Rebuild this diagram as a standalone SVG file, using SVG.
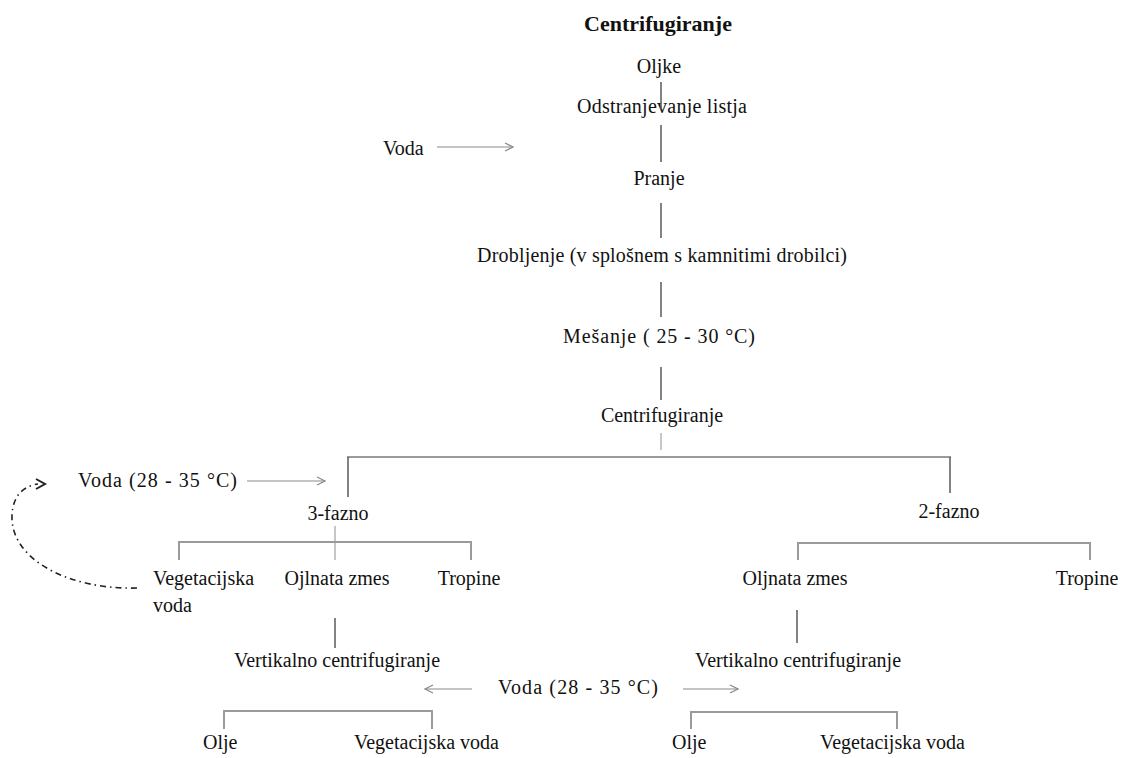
<svg xmlns="http://www.w3.org/2000/svg" width="1122" height="758" viewBox="0 0 1122 758">
  <defs>
    <style>
      text { font-family: "Liberation Serif", "Times New Roman", serif; font-size: 20px; fill: #111; }
      .title { font-size: 22px; font-weight: bold; }
      .mid { text-anchor: middle; }
      .spine { stroke: #5a5a5a; stroke-width: 1.5; fill: none; }
      .bracket { stroke: #9a9a9a; stroke-width: 2; fill: none; }
      .faint { stroke: #b5b5b5; stroke-width: 1.5; fill: none; }
      .arrow { stroke: #8a8a8a; stroke-width: 1.2; fill: none; }
      .loop { stroke: #222; stroke-width: 1.6; fill: none; stroke-dasharray: 6 4 1.5 4; }
    </style>
    <marker id="open-head" viewBox="0 0 10 10" refX="9" refY="5" markerWidth="10" markerHeight="10" markerUnits="userSpaceOnUse" orient="auto-start-reverse">
      <path d="M1,1 L9,5 L1,9" fill="none" stroke="#8a8a8a" stroke-width="1.2"/>
    </marker>
  </defs>

  <rect width="1122" height="758" fill="#ffffff"/>

  <!-- process steps -->
  <g id="title"><text class="title mid" x="658" y="31">Centrifugiranje</text></g>
  <g id="oljke"><text class="mid" x="659" y="73">Oljke</text></g>
  <g id="odstranjevanje"><text class="mid" x="662" y="113" textLength="170">Odstranjevanje listja</text></g>
  <g id="voda-pranje"><text x="383" y="155">Voda</text></g>
  <g id="pranje"><text class="mid" x="659" y="185">Pranje</text></g>
  <g id="drobljenje"><text class="mid" x="662" y="262" textLength="370">Drobljenje (v splošnem s kamnitimi drobilci)</text></g>
  <g id="mesanje"><text class="mid" x="659" y="343" textLength="192">Mešanje ( 25 - 30 °C)</text></g>
  <g id="centrifugiranje"><text class="mid" x="662" y="422">Centrifugiranje</text></g>

  <!-- decanter branches -->
  <g id="voda-3f"><text x="78" y="487" textLength="159">Voda (28 - 35 °C)</text></g>
  <g id="faza3"><text class="mid" x="338" y="520">3-fazno</text></g>
  <g id="faza2"><text class="mid" x="949" y="518">2-fazno</text></g>

  <g id="vegetacijska-3f"><text x="153" y="585">Vegetacijska</text><text x="153" y="612">voda</text></g>
  <g id="oljnata-3f"><text class="mid" x="337" y="585">Ojlnata zmes</text></g>
  <g id="tropine-3f"><text class="mid" x="469" y="585">Tropine</text></g>
  <g id="oljnata-2f"><text class="mid" x="795" y="585">Oljnata zmes</text></g>
  <g id="tropine-2f"><text class="mid" x="1087" y="585">Tropine</text></g>

  <g id="vertikalno-3f"><text class="mid" x="337" y="667">Vertikalno centrifugiranje</text></g>
  <g id="vertikalno-2f"><text class="mid" x="798" y="667">Vertikalno centrifugiranje</text></g>
  <g id="voda-vertikalno"><text class="mid" x="578" y="694" textLength="160">Voda (28 - 35 °C)</text></g>

  <g id="olje-3f"><text x="203" y="749">Olje</text></g>
  <g id="vegvoda-3f"><text x="354" y="749">Vegetacijska voda</text></g>
  <g id="olje-2f"><text x="672" y="749">Olje</text></g>
  <g id="vegvoda-2f"><text x="820" y="749">Vegetacijska voda</text></g>

  <!-- connectors -->
  <g id="connectors">
    <!-- main line -->
    <line class="spine" x1="661" y1="82" x2="661" y2="110"/>
    <line class="spine" x1="661" y1="125" x2="661" y2="162"/>
    <line class="spine" x1="661" y1="203" x2="661" y2="238"/>
    <line class="spine" x1="661" y1="282" x2="661" y2="317"/>
    <line class="spine" x1="661" y1="367" x2="661" y2="400"/>
    <line class="faint" x1="661" y1="433" x2="661" y2="450"/>

    <!-- split into 3-phase / 2-phase -->
    <line class="bracket" x1="347" y1="457" x2="951" y2="457"/>
    <line class="spine" x1="348" y1="457" x2="348" y2="497"/>
    <line class="spine" x1="950" y1="457" x2="950" y2="493"/>

    <!-- 3-phase outputs -->
    <line class="faint" x1="335" y1="526" x2="335" y2="560"/>
    <polyline class="bracket" points="179,560 179,542 471,542 471,560"/>
    <line class="spine" x1="335" y1="618" x2="335" y2="648"/>

    <!-- 2-phase outputs -->
    <polyline class="bracket" points="798,560 798,543 1090,543 1090,560"/>
    <line class="spine" x1="797" y1="610" x2="797" y2="643"/>

    <!-- vertical centrifuge outputs -->
    <polyline class="bracket" points="224,729 224,711 432,711 432,729"/>
    <polyline class="bracket" points="691,729 691,712 897,712 897,729"/>

    <!-- water inputs -->
    <line class="arrow" x1="437" y1="147" x2="513" y2="147" marker-end="url(#open-head)"/>
    <line class="arrow" x1="247" y1="481" x2="325" y2="481" marker-end="url(#open-head)"/>
    <line class="arrow" x1="472" y1="689" x2="425" y2="689" marker-end="url(#open-head)"/>
    <line class="arrow" x1="683" y1="689" x2="738" y2="689" marker-end="url(#open-head)"/>

    <!-- vegetation water recycled back -->
    <path class="loop" d="M137,588 C70,590 10,560 12,515 C13,495 24,486 38,484"/>
    <path d="M36,479 L45,484 L36,489" fill="none" stroke="#222" stroke-width="2"/>
  </g>
</svg>
